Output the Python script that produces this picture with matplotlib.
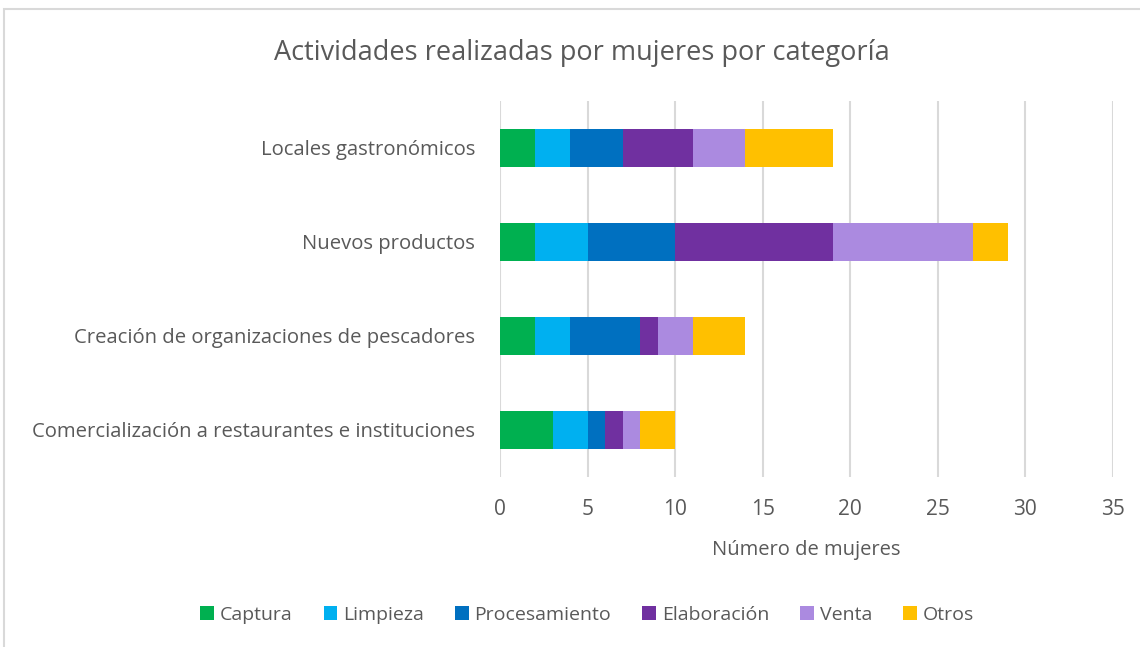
import matplotlib.pyplot as plt
import numpy as np
from matplotlib.patches import Rectangle

plt.rcParams['font.family'] = ['Open Sans', 'DejaVu Sans']

# datos
categorias = ['Comercialización a restaurantes e instituciones',
              'Creación de organizaciones de pescadores',
              'Nuevos productos',
              'Locales gastronómicos']
actividades = ['Captura', 'Limpieza', 'Procesamiento', 'Elaboración', 'Venta', 'Otros']
captura = [3, 2, 2, 2]
limpieza = [2, 2, 3, 2]
procesamiento = [1, 4, 5, 3]
elaboracion = [1, 1, 9, 4]
venta = [1, 2, 8, 3]
otros = [2, 3, 2, 5]
colores = ['#00B050', '#00B0F0', '#0070C0', '#7030A0', '#AB8AE0', '#FFC000']

series = [captura, limpieza, procesamiento, elaboracion, venta, otros]
gris = '#595959'

fig = plt.figure(figsize=(11.4, 6.47), dpi=100)
ax = fig.add_axes([0.4386, 0.2628, 0.5377, 0.5811])

y = np.arange(len(categorias))
izq = np.zeros(len(categorias))
for nombre, vals, c in zip(actividades, series, colores):
    ax.barh(y, vals, left=izq, height=0.4, color=c, label=nombre, zorder=3)
    izq += np.array(vals)

ax.set_xlim(0, 35)
ax.set_ylim(-0.5, 3.5)
ax.set_xticks(range(0, 36, 5))
ax.set_yticks(y)
ax.set_yticklabels(categorias)
ax.grid(axis='x', color='#D9D9D9', linewidth=1.5, zorder=0)
for s in ax.spines.values():
    s.set_visible(False)
ax.tick_params(length=0, labelcolor=gris, labelsize=14)
ax.tick_params(axis='y', pad=18, labelsize=14.6)
ax.tick_params(axis='x', pad=16, labelsize=15)
ax.set_xlabel('Número de mujeres', color=gris, fontsize=14.5, labelpad=14)

fig.suptitle('Actividades realizadas por mujeres por categoría', color=gris,
             fontsize=19.5, x=0.51, y=0.94)

fig.legend(loc='center', bbox_to_anchor=(0.515, 0.05), ncol=6, frameon=False,
           fontsize=14, labelcolor=gris, handlelength=0.7, handleheight=0.7,
           handletextpad=0.3, columnspacing=1.6)

fig.patches.append(Rectangle((4 / 1140, -0.1), 1.2, 1 - 9 / 647 + 0.1,
                             transform=fig.transFigure, fill=False,
                             edgecolor='#D9D9D9', linewidth=1.5))

plt.savefig('out.png')
